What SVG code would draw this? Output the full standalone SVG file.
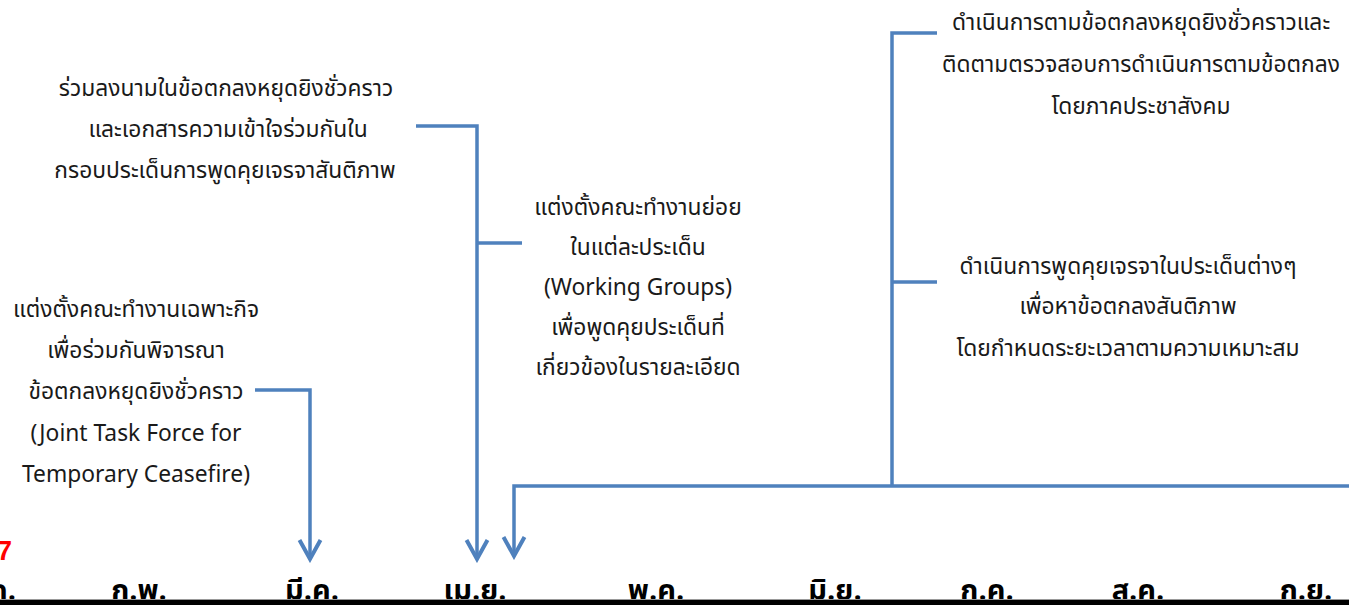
<svg xmlns="http://www.w3.org/2000/svg" width="1349" height="605" viewBox="0 0 1349 605">
<style>
.t{font-family:"Noto Sans Thai","Leelawadee UI","Noto Sans","DejaVu Sans",sans-serif;font-size:22.8px;fill:#1a1a1a;text-anchor:middle}
.m{font-family:"Noto Sans Thai","Leelawadee UI","Noto Sans","DejaVu Sans",sans-serif;font-size:29px;font-weight:bold;fill:#000;text-anchor:middle}
.c{fill:none;stroke:#4F81BD;stroke-width:3.5}
</style>
<defs>
<marker id="arr" viewBox="-24 -14 28 28" refX="0" refY="0" markerWidth="28" markerHeight="28" markerUnits="userSpaceOnUse" orient="auto">
<path d="M-19,-10.5 L0,0 L-19,10.5" fill="none" stroke="#4F81BD" stroke-width="4"/>
</marker>
</defs>
<rect width="1349" height="605" fill="#fff"/>
<g id="connectors">
<path class="c" d="M255,390 H310 V559" marker-end="url(#arr)"/>
<path class="c" d="M416,126 H477 V559" marker-end="url(#arr)"/>
<path class="c" d="M477,243 H522"/>
<path class="c" d="M1349,486 H514 V556" marker-end="url(#arr)"/>
<path class="c" d="M892,486 V33 H937"/>
<path class="c" d="M892,282 H937"/>
</g>
<g id="node-sign">
<text class="t" x="226" y="96">ร่วมลงนามในข้อตกลงหยุดยิงชั่วคราว</text>
<text class="t" x="228" y="137">และเอกสารความเข้าใจร่วมกันใน</text>
<text class="t" x="225" y="178">กรอบประเด็นการพูดคุยเจรจาสันติภาพ</text>
</g>
<g id="node-jtf">
<text class="t" x="136" y="317">แต่งตั้งคณะทำงานเฉพาะกิจ</text>
<text class="t" x="136" y="358">เพื่อร่วมกันพิจารณา</text>
<text class="t" x="136" y="399">ข้อตกลงหยุดยิงชั่วคราว</text>
<text class="t" x="136" y="441">(Joint Task Force for</text>
<text class="t" x="136" y="482">Temporary Ceasefire)</text>
</g>
<g id="node-wg">
<text class="t" x="638" y="215">แต่งตั้งคณะทำงานย่อย</text>
<text class="t" x="638" y="255">ในแต่ละประเด็น</text>
<text class="t" x="638" y="295">(Working Groups)</text>
<text class="t" x="638" y="335">เพื่อพูดคุยประเด็นที่</text>
<text class="t" x="638" y="375">เกี่ยวข้องในรายละเอียด</text>
</g>
<g id="node-monitor">
<text class="t" x="1141" y="30">ดำเนินการตามข้อตกลงหยุดยิงชั่วคราวและ</text>
<text class="t" x="1141" y="72">ติดตามตรวจสอบการดำเนินการตามข้อตกลง</text>
<text class="t" x="1141" y="114">โดยภาคประชาสังคม</text>
</g>
<g id="node-negotiate">
<text class="t" x="1128" y="274">ดำเนินการพูดคุยเจรจาในประเด็นต่างๆ</text>
<text class="t" x="1128" y="314">เพื่อหาข้อตกลงสันติภาพ</text>
<text class="t" x="1128" y="356">โดยกำหนดระยะเวลาตามความเหมาะสม</text>
</g>
<g id="timeline">
<text x="12" y="560" font-family="Liberation Sans,Arial,sans-serif" font-size="27" font-weight="bold" fill="#FF0000" text-anchor="end">7</text>
<text class="m" x="-11" y="600">ม.ค.</text>
<text class="m" x="139" y="600">ก.พ.</text>
<text class="m" x="312" y="600">มี.ค.</text>
<text class="m" x="475" y="600">เม.ย.</text>
<text class="m" x="656" y="600">พ.ค.</text>
<text class="m" x="835" y="600">มิ.ย.</text>
<text class="m" x="987" y="600">ก.ค.</text>
<text class="m" x="1138" y="600">ส.ค.</text>
<text class="m" x="1306" y="600">ก.ย.</text>
<rect x="0" y="599" width="1349" height="1" fill="#999"/>
<rect x="0" y="600" width="1349" height="5" fill="#000"/>
</g>
</svg>
